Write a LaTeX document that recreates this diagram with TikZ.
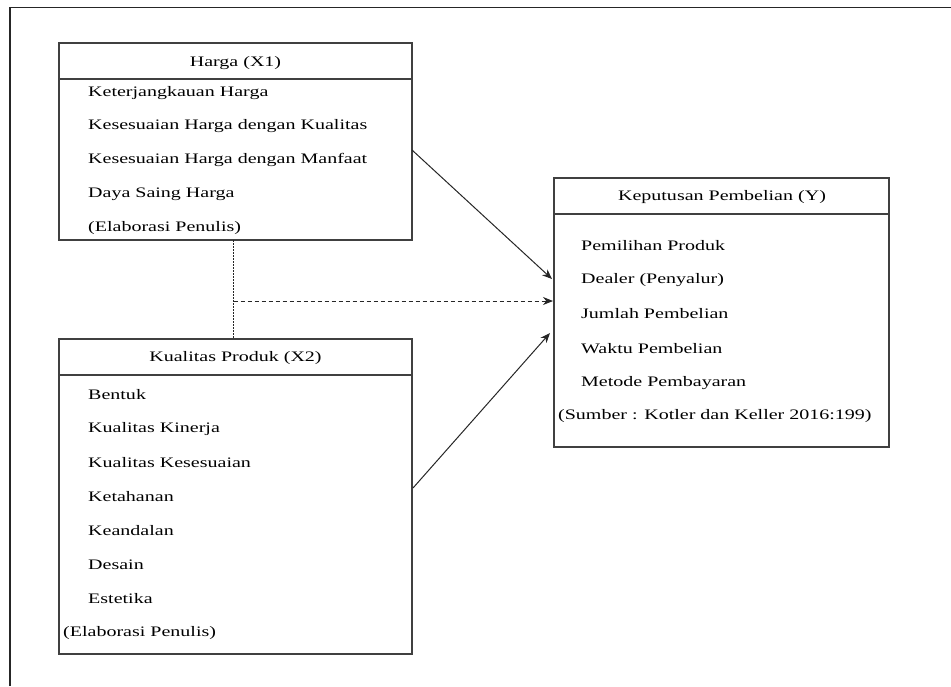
\documentclass[tikz,border=0pt]{standalone}
\usepackage{fontspec}
\setmainfont{Liberation Serif}[FakeStretch=1.38]
\usetikzlibrary{arrows.meta}
\begin{document}
\begin{tikzpicture}[x=1pt,y=-1pt,
  box/.style={draw=black!75,line width=1.2pt,anchor=north west,inner sep=0pt,outer sep=0pt},
  item/.style={anchor=west,inner sep=0pt,font=\fontsize{14.5pt}{17pt}\selectfont,text=black},
  head/.style={anchor=center,inner sep=0pt,font=\fontsize{14.5pt}{17pt}\selectfont,text=black},
  sep/.style={draw=black!75,line width=1.2pt},
  conn/.style={draw=black!85,line width=1pt,-{Stealth[length=10pt,width=8pt]}}]
\useasboundingbox (0,0) rectangle (951,686);
% outer frame (only top and left visible)
\draw[line width=1.5pt,black!85] (10,686) -- (10,7.5) -- (951,7.5);
% boxes
\node[box,minimum width=353pt,minimum height=197pt] (hbox) at (59,43) {};
\node[box,minimum width=353pt,minimum height=315pt] (kbox) at (59,339) {};
\node[box,minimum width=335pt,minimum height=269pt] (ybox) at (554,178) {};
\draw[sep] (59,79) -- (412,79);
\draw[sep] (59,375) -- (412,375);
\draw[sep] (554,214) -- (889,214);
% Harga
\node[head] (ht) at (235.5,63) {Harga (X1)};
\node[item] (h1) at (88,93) {Keterjangkauan Harga};
\node[item] (h2) at (88,126) {Kesesuaian Harga dengan Kualitas};
\node[item] (h3) at (88,160) {Kesesuaian Harga dengan Manfaat};
\node[item] (h4) at (88,194) {Daya Saing Harga};
\node[item] (h5) at (88,228) {(Elaborasi Penulis)};
% Kualitas
\node[head] (kt) at (235.5,358) {Kualitas Produk (X2)};
\node[item] (k1) at (88,395) {Bentuk};
\node[item] (k2) at (88,429) {Kualitas Kinerja};
\node[item] (k3) at (88,463) {Kualitas Kesesuaian};
\node[item] (k4) at (88,497) {Ketahanan};
\node[item] (k5) at (88,531) {Keandalan};
\node[item] (k6) at (88,565) {Desain};
\node[item] (k7) at (88,599) {Estetika};
\node[item] (k8) at (63,633) {(Elaborasi Penulis)};
% Y
\node[head] (yt) at (722,197) {Keputusan Pembelian (Y)};
\node[item] (y1) at (581,246) {Pemilihan Produk};
\node[item] (y2) at (581,280) {Dealer (Penyalur)};
\node[item] (y3) at (581,314) {Jumlah Pembelian};
\node[item] (y4) at (581,349) {Waktu Pembelian};
\node[item] (y5) at (581,383) {Metode Pembayaran};
\node[item] (y6) at (558,416) {(Sumber : Kotler dan Keller 2016:199)};
% connectors
\coordinate (hout) at (412,150);
\coordinate (hin) at (552,279);
\coordinate (kout) at (413,488);
\coordinate (kin) at (550,333);
\coordinate (dtop) at (233.5,240);
\coordinate (dbot) at (233.5,339);
\coordinate (dmid) at (233.5,301);
\coordinate (din) at (553,301);
\draw[conn] (hout) -- (hin);
\draw[conn] (kout) -- (kin);
\draw[black!85,line width=1pt,dash pattern=on 1.5pt off 1.5pt] (dtop) -- (dbot);
\draw[conn,dash pattern=on 4pt off 3pt] (dmid) -- (din);
\end{tikzpicture}
\end{document}
